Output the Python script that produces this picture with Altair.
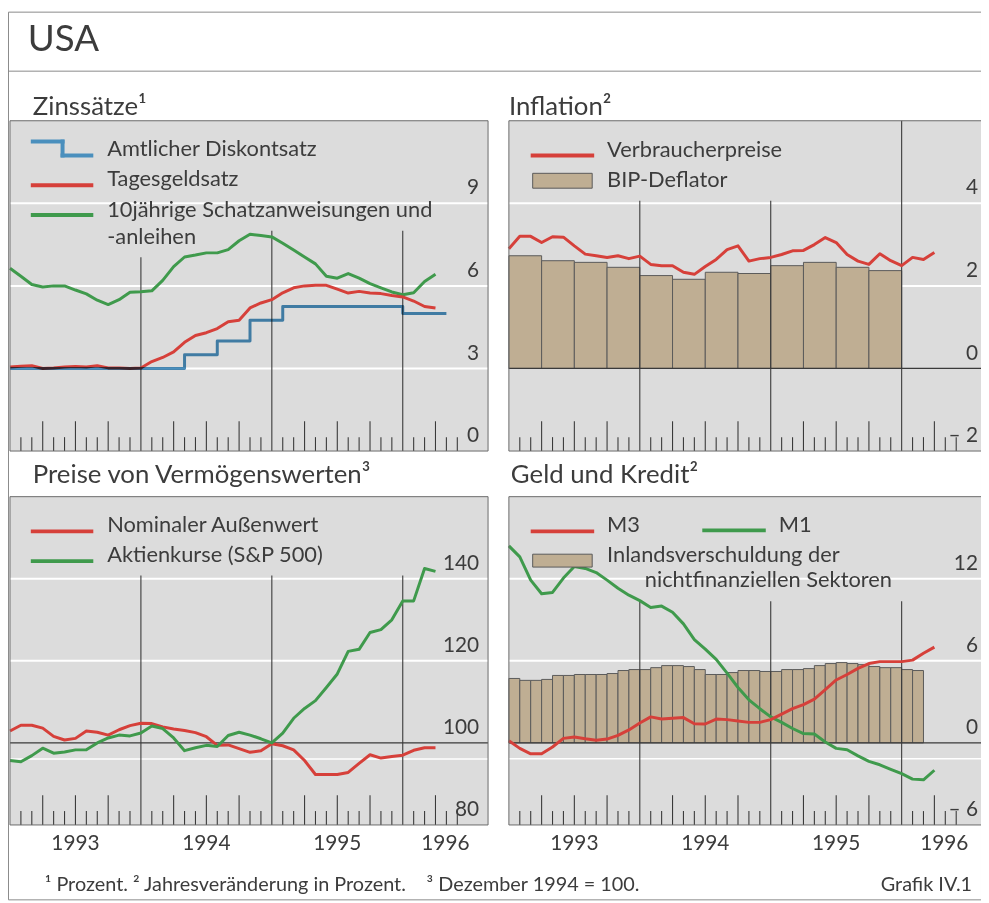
import altair as alt
import pandas as pd

# ---------------- data ----------------
MONTHS = [f"{1993 + i // 12}-{i % 12 + 1:02d}" for i in range(40)]  # 1993-01 .. 1996-04

# Zinssaetze (percent)
TREASURY_10Y = [6.64, 6.35, 6.05, 5.96, 6.00, 6.00, 5.85, 5.71, 5.48, 5.32, 5.50, 5.77,
                5.79, 5.82, 6.20, 6.70, 7.05, 7.12, 7.20, 7.20, 7.32, 7.64, 7.88, 7.83,
                7.78, 7.55, 7.30, 7.05, 6.80, 6.35, 6.28, 6.45, 6.28, 6.08, 5.93, 5.78,
                5.68, 5.75, 6.16, 6.42]
FED_FUNDS = [3.05, 3.08, 3.10, 3.00, 3.02, 3.05, 3.07, 3.05, 3.10, 3.02, 3.02, 3.00,
             3.02, 3.25, 3.40, 3.60, 3.95, 4.20, 4.30, 4.45, 4.70, 4.75, 5.20, 5.38,
             5.50, 5.75, 5.93, 6.00, 6.02, 6.02, 5.88, 5.74, 5.80, 5.74, 5.72, 5.65,
             5.60, 5.45, 5.25, 5.20]
DISCOUNT_DATES = ["1993-01", "1994-05", "1994-08", "1994-11", "1995-02", "1996-01", "1996-05"]
DISCOUNT_RATE = [3.0, 3.5, 4.0, 4.75, 5.25, 5.0, 5.0]

# Inflation (annual change, percent)
CPI = [2.90, 3.20, 3.20, 3.05, 3.19, 3.18, 2.97, 2.77, 2.73, 2.69, 2.73, 2.66,
       2.72, 2.52, 2.49, 2.49, 2.33, 2.28, 2.47, 2.64, 2.88, 2.97, 2.60, 2.66,
       2.69, 2.76, 2.85, 2.86, 3.00, 3.17, 3.05, 2.76, 2.60, 2.52, 2.78, 2.61,
       2.49, 2.69, 2.64, 2.81]
QUARTERS = [f"{y}Q{q}" for y in (1993, 1994, 1995) for q in (1, 2, 3, 4)]
GDP_DEFLATOR = [2.73, 2.61, 2.57, 2.45, 2.25, 2.16, 2.33, 2.30, 2.49, 2.57, 2.45, 2.37]

# Preise von Vermoegenswerten (Dec 1994 = 100)
NEER = [102.9, 104.3, 104.3, 103.6, 101.6, 100.7, 101.1, 102.9, 102.6, 101.9, 103.2, 104.2,
        104.8, 104.7, 103.9, 103.4, 103.0, 102.5, 101.5, 99.4, 99.5, 98.6, 97.7, 98.1,
        99.8, 99.3, 98.3, 95.7, 92.3, 92.3, 92.3, 92.8, 95.0, 97.1, 96.3, 96.7,
        97.0, 98.2, 98.8, 98.8]
SP500 = [95.7, 95.4, 96.9, 98.7, 97.5, 97.8, 98.3, 98.3, 100.0, 101.2, 101.9, 101.7,
         102.4, 104.1, 103.5, 101.2, 98.1, 98.8, 99.4, 99.1, 101.8, 102.6, 101.9, 101.0,
         100.0, 102.4, 106.0, 108.4, 110.3, 113.5, 116.8, 122.3, 122.8, 126.9, 127.6, 130.0,
         134.6, 134.6, 142.5, 141.8]

# Geld und Kredit (annual change, percent)
M3 = [0.15, -0.40, -0.80, -0.80, -0.30, 0.33, 0.43, 0.30, 0.20, 0.28, 0.55, 0.95,
      1.45, 1.90, 1.75, 1.80, 1.85, 1.40, 1.38, 1.74, 1.70, 1.60, 1.50, 1.50,
      1.70, 2.10, 2.50, 2.80, 3.20, 3.90, 4.60, 5.00, 5.45, 5.80, 5.94, 5.94,
      5.94, 6.05, 6.55, 7.00]
M1 = [14.4, 13.6, 11.9, 10.9, 11.0, 12.05, 12.9, 12.75, 12.45, 11.9, 11.3, 10.8,
      10.4, 9.9, 10.0, 9.55, 8.7, 7.55, 6.85, 6.1, 5.1, 4.05, 3.15, 2.5,
      1.9, 1.5, 1.05, 0.68, 0.65, 0.07, -0.4, -0.5, -0.95, -1.35, -1.6, -1.93,
      -2.25, -2.65, -2.7, -2.0]
DEBT = [4.71, 4.57, 4.57, 4.64, 4.93, 4.93, 5.00, 5.00, 5.00, 5.07, 5.29, 5.36,
        5.36, 5.50, 5.65, 5.65, 5.58, 5.36, 5.00, 5.00, 5.14, 5.29, 5.29, 5.22,
        5.22, 5.36, 5.36, 5.43, 5.65, 5.80, 5.87, 5.80, 5.72, 5.58, 5.50, 5.50,
        5.36, 5.29]
DEBT_MONTHS = MONTHS[:len(DEBT)]

YEARS = ["1993", "1994", "1995", "1996"]

# ---------------- style ----------------
FONT = "Lato"
TEXT = "#3c3c3c"
BG = "#dcdcdc"
BORDER = "#6a6a6a"
DARK = "#3a3a3a"
RED = "#d6403a"
GREEN = "#3f9a4c"
BLUE = "#4a8fbd"
TAN = "#bfae93"
BAR_STROKE = "#5a5a5a"
W, H = 981, 895
XMAX = 482 / 11.0  # months shown in each panel (11 px per month)
LEG = 22      # legend font size
TITLE = 26    # panel title font size
TICKF = 21    # tick label font size
NOTE = 20     # footnote font size


def mi(label):
    y, m = label.split("-")
    return (int(y) - 1993) * 12 + int(m) - 1


def qi(label):
    y, q = label.split("Q")
    return (int(y) - 1993) * 12 + (int(q) - 1) * 3


ONE = pd.DataFrame({"_": [0]})


def text(s, x, y, size=LEG, align="left", color=TEXT, line_height=None):
    kw = {"lineHeight": line_height} if line_height else {}
    return alt.Chart(ONE).mark_text(text=s, align=align, baseline="alphabetic", font=FONT,
                                    fontSize=size, color=color, **kw).encode(
        x=alt.value(x), y=alt.value(y))


def seg(x1, x2, y1, y2, color, width=4):
    return alt.Chart(ONE).mark_rule(color=color, strokeWidth=width, strokeCap="square").encode(
        x=alt.value(x1), x2=alt.value(x2), y=alt.value(y1), y2=alt.value(y2))


def box(x1, x2, y1, y2):
    return alt.Chart(ONE).mark_rect(fill=TAN, stroke=BAR_STROKE, strokeWidth=1).encode(
        x=alt.value(x1), x2=alt.value(x2), y=alt.value(y1), y2=alt.value(y2))


def panel(xr, yr, ydom, grid, ref, labels, yline_from, series, bars=None, years=False):
    xs = alt.Scale(domain=[0, XMAX], range=list(xr), nice=False, zero=False)
    ys = alt.Scale(domain=list(ydom), range=list(yr), nice=False, zero=False)
    X = lambda f: alt.X(f, type="quantitative", scale=xs, axis=None)
    Y = lambda f: alt.Y(f, type="quantitative", scale=ys, axis=None)
    ymin, ymax = ydom
    unit = (ymax - ymin) / abs(yr[0] - yr[1])  # data units per pixel
    out = []
    frame = pd.DataFrame({"x0": [0], "x1": [XMAX], "y0": [ymin], "y1": [ymax]})
    out.append(alt.Chart(frame).mark_rect(fill=BG).encode(x=X("x0"), x2="x1", y=Y("y0"), y2="y1"))
    g = pd.DataFrame({"v": [v for v, _ in grid], "w": [w for _, w in grid], "x0": 0.0, "x1": XMAX})
    out.append(alt.Chart(g).mark_rule(color="white").encode(
        x=X("x0"), x2="x1", y=Y("v"), strokeWidth=alt.StrokeWidth("w:Q", scale=None)))
    if bars is not None:
        out.append(alt.Chart(bars).mark_rect(fill=TAN, stroke=BAR_STROKE, strokeWidth=1).encode(
            x=X("x0"), x2="x1", y=Y("zero"), y2="v"))
    if ref is not None:
        r = pd.DataFrame({"v": [ref], "x0": [0.0], "x1": [XMAX]})
        out.append(alt.Chart(r).mark_rule(color=DARK, strokeWidth=1.2).encode(x=X("x0"), x2="x1", y=Y("v")))
    yl = pd.DataFrame({"x": [12, 24, 36], "y0": yline_from, "y1": ymin})
    out.append(alt.Chart(yl).mark_rule(color=DARK, strokeWidth=1.1).encode(x=X("x"), y=Y("y0"), y2="y1"))
    tm = [m for m in range(1, 42) if m % 12 != 0]
    tk = pd.DataFrame({"x": tm, "y0": ymin,
                       "y1": [ymin + (30 if m % 3 == 0 else 14) * unit for m in tm]})
    out.append(alt.Chart(tk).mark_rule(color=DARK, strokeWidth=1.1).encode(x=X("x"), y=Y("y0"), y2="y1"))
    for df, color, interp, blend in series:
        kw = {"blend": blend} if blend else {}
        out.append(alt.Chart(df).mark_line(color=color, strokeWidth=3, interpolate=interp,
                                           strokeJoin="round", **kw).encode(x=X("m"), y=Y("v")))
    lab = pd.DataFrame({"v": [v for v, _ in labels], "t": [t for _, t in labels], "x": XMAX})
    out.append(alt.Chart(lab).mark_text(align="right", baseline="alphabetic", dx=-9, dy=-9, font=FONT,
                                        fontSize=TICKF, color=TEXT).encode(x=X("x"), y=Y("v"), text="t:N"))
    if years:
        pos = [(int(y) - 1993) * 12 + 6 for y in YEARS[:-1]] + [(36 + XMAX) / 2]
        yd = pd.DataFrame({"x": pos, "t": YEARS, "v": ymin})
        out.append(alt.Chart(yd).mark_text(align="center", baseline="alphabetic", dy=25, font=FONT,
                                           fontSize=TICKF, color=TEXT).encode(x=X("x"), y=Y("v"), text="t:N"))
    out.append(alt.Chart(frame).mark_rect(fillOpacity=0, stroke=BORDER, strokeWidth=1).encode(
        x=X("x0"), x2="x1", y=Y("y0"), y2="y1"))
    return out


def monthly(values, months=MONTHS):
    return pd.DataFrame({"m": [mi(s) for s in months], "v": values})


LX, RX = (2, 484), (505, 987)
TY, BY = (443, 110), (820, 489)

# Zinssaetze
tl = panel(LX, TY, (0, 12), [(3, 2), (6, 2), (9, 2)], None,
           [(0, "0"), (3, "3"), (6, "6"), (9, "9")], [7.04, 8.0, 8.0],
           [(monthly(TREASURY_10Y), GREEN, "linear", None),
            (monthly(FED_FUNDS), RED, "linear", None),
            (monthly(DISCOUNT_RATE, DISCOUNT_DATES), BLUE, "step-after", "multiply")])

# Inflation
defl = pd.DataFrame({"x0": [qi(q) for q in QUARTERS], "x1": [qi(q) + 3 for q in QUARTERS],
                     "v": GDP_DEFLATOR, "zero": 0.0})
tr = panel(RX, TY, (-2, 6), [(2, 2), (4, 2)], 0,
           [(-2, "– 2"), (0, "0"), (2, "2"), (4, "4")], [4.06, 4.06, 6.0],
           [(monthly(CPI), RED, "linear", None)], bars=defl)

# Preise von Vermoegenswerten
bl = panel(LX, BY, (80, 160), [(96.1, 1.5), (120, 2), (140, 2)], 100,
           [(80, "80"), (100, "100"), (120, "120"), (140, "140")], [140.8, 140.8, 140.8],
           [(monthly(NEER), RED, "linear", None), (monthly(SP500), GREEN, "linear", None)], years=True)

# Geld und Kredit
debt = pd.DataFrame({"x0": [mi(s) for s in DEBT_MONTHS], "x1": [mi(s) + 1 for s in DEBT_MONTHS],
                     "v": DEBT, "zero": 0.0})
br = panel(RX, BY, (-6, 18), [(-1.16, 1.5), (6, 2), (12, 2)], 0,
           [(-6, "– 6"), (0, "0"), (6, "6"), (12, "12")], [10.36, 10.36, 10.36],
           [(monthly(M1), GREEN, "linear", None), (monthly(M3), RED, "linear", None)],
           bars=debt, years=True)

decor = [
    text("USA", 20, 40, size=37),
    seg(0, W, 60, 60, "#8a8a8a", 1),
    text("Zinssätze¹", 25, 104, size=TITLE), text("Inflation²", 505, 104, size=TITLE),
    text("Preise von Vermögenswerten³", 25, 475, size=TITLE),
    text("Geld und Kredit²", 507, 475, size=TITLE),
    # legend: Zinssaetze
    seg(25, 55, 131, 131, BLUE), seg(55, 55, 131, 145, BLUE), seg(55, 84, 145, 145, BLUE),
    text("Amtlicher Diskontsatz", 100, 146),
    seg(25, 84, 175, 175, RED), text("Tagesgeldsatz", 100, 176),
    seg(25, 84, 205, 205, GREEN),
    text(["10jährige Schatzanweisungen und", "-anleihen"], 100, 207, line_height=27),
    # legend: Inflation
    seg(529, 589, 145, 145, RED), text("Verbraucherpreise", 604, 147),
    box(529, 589, 163, 178), text("BIP-Deflator", 604, 177),
    # legend: Preise
    seg(25, 84, 524, 524, RED), text("Nominaler Außenwert", 100, 525),
    seg(25, 84, 554, 554, GREEN), text("Aktienkurse (S&P 500)", 100, 555),
    # legend: Geld und Kredit
    seg(529, 589, 524, 524, RED), text("M3", 604, 525),
    seg(702, 762, 523, 523, GREEN), text("M1", 777, 525),
    box(529, 589, 547, 560), text("Inlandsverschuldung der", 604, 555),
    text("nichtfinanziellen Sektoren", 642, 580),
    # footnotes
    text("¹ Prozent.", 37, 887, size=NOTE),
    text("² Jahresveränderung in Prozent.", 126, 887, size=NOTE),
    text("³ Dezember 1994 = 100.", 422, 887, size=NOTE),
    text("Grafik IV.1", 972, 887, size=NOTE, align="right"),
]

chart = alt.layer(*(tl + tr + bl + br + decor)).resolve_scale(
    x="independent", y="independent"
).properties(
    width=W, height=H, autosize=alt.AutoSizeParams(type="none"), padding=0
).configure_view(stroke="#8a8a8a", strokeWidth=1)

chart.save("out.html", embed_options={"renderer": "svg", "actions": False})
